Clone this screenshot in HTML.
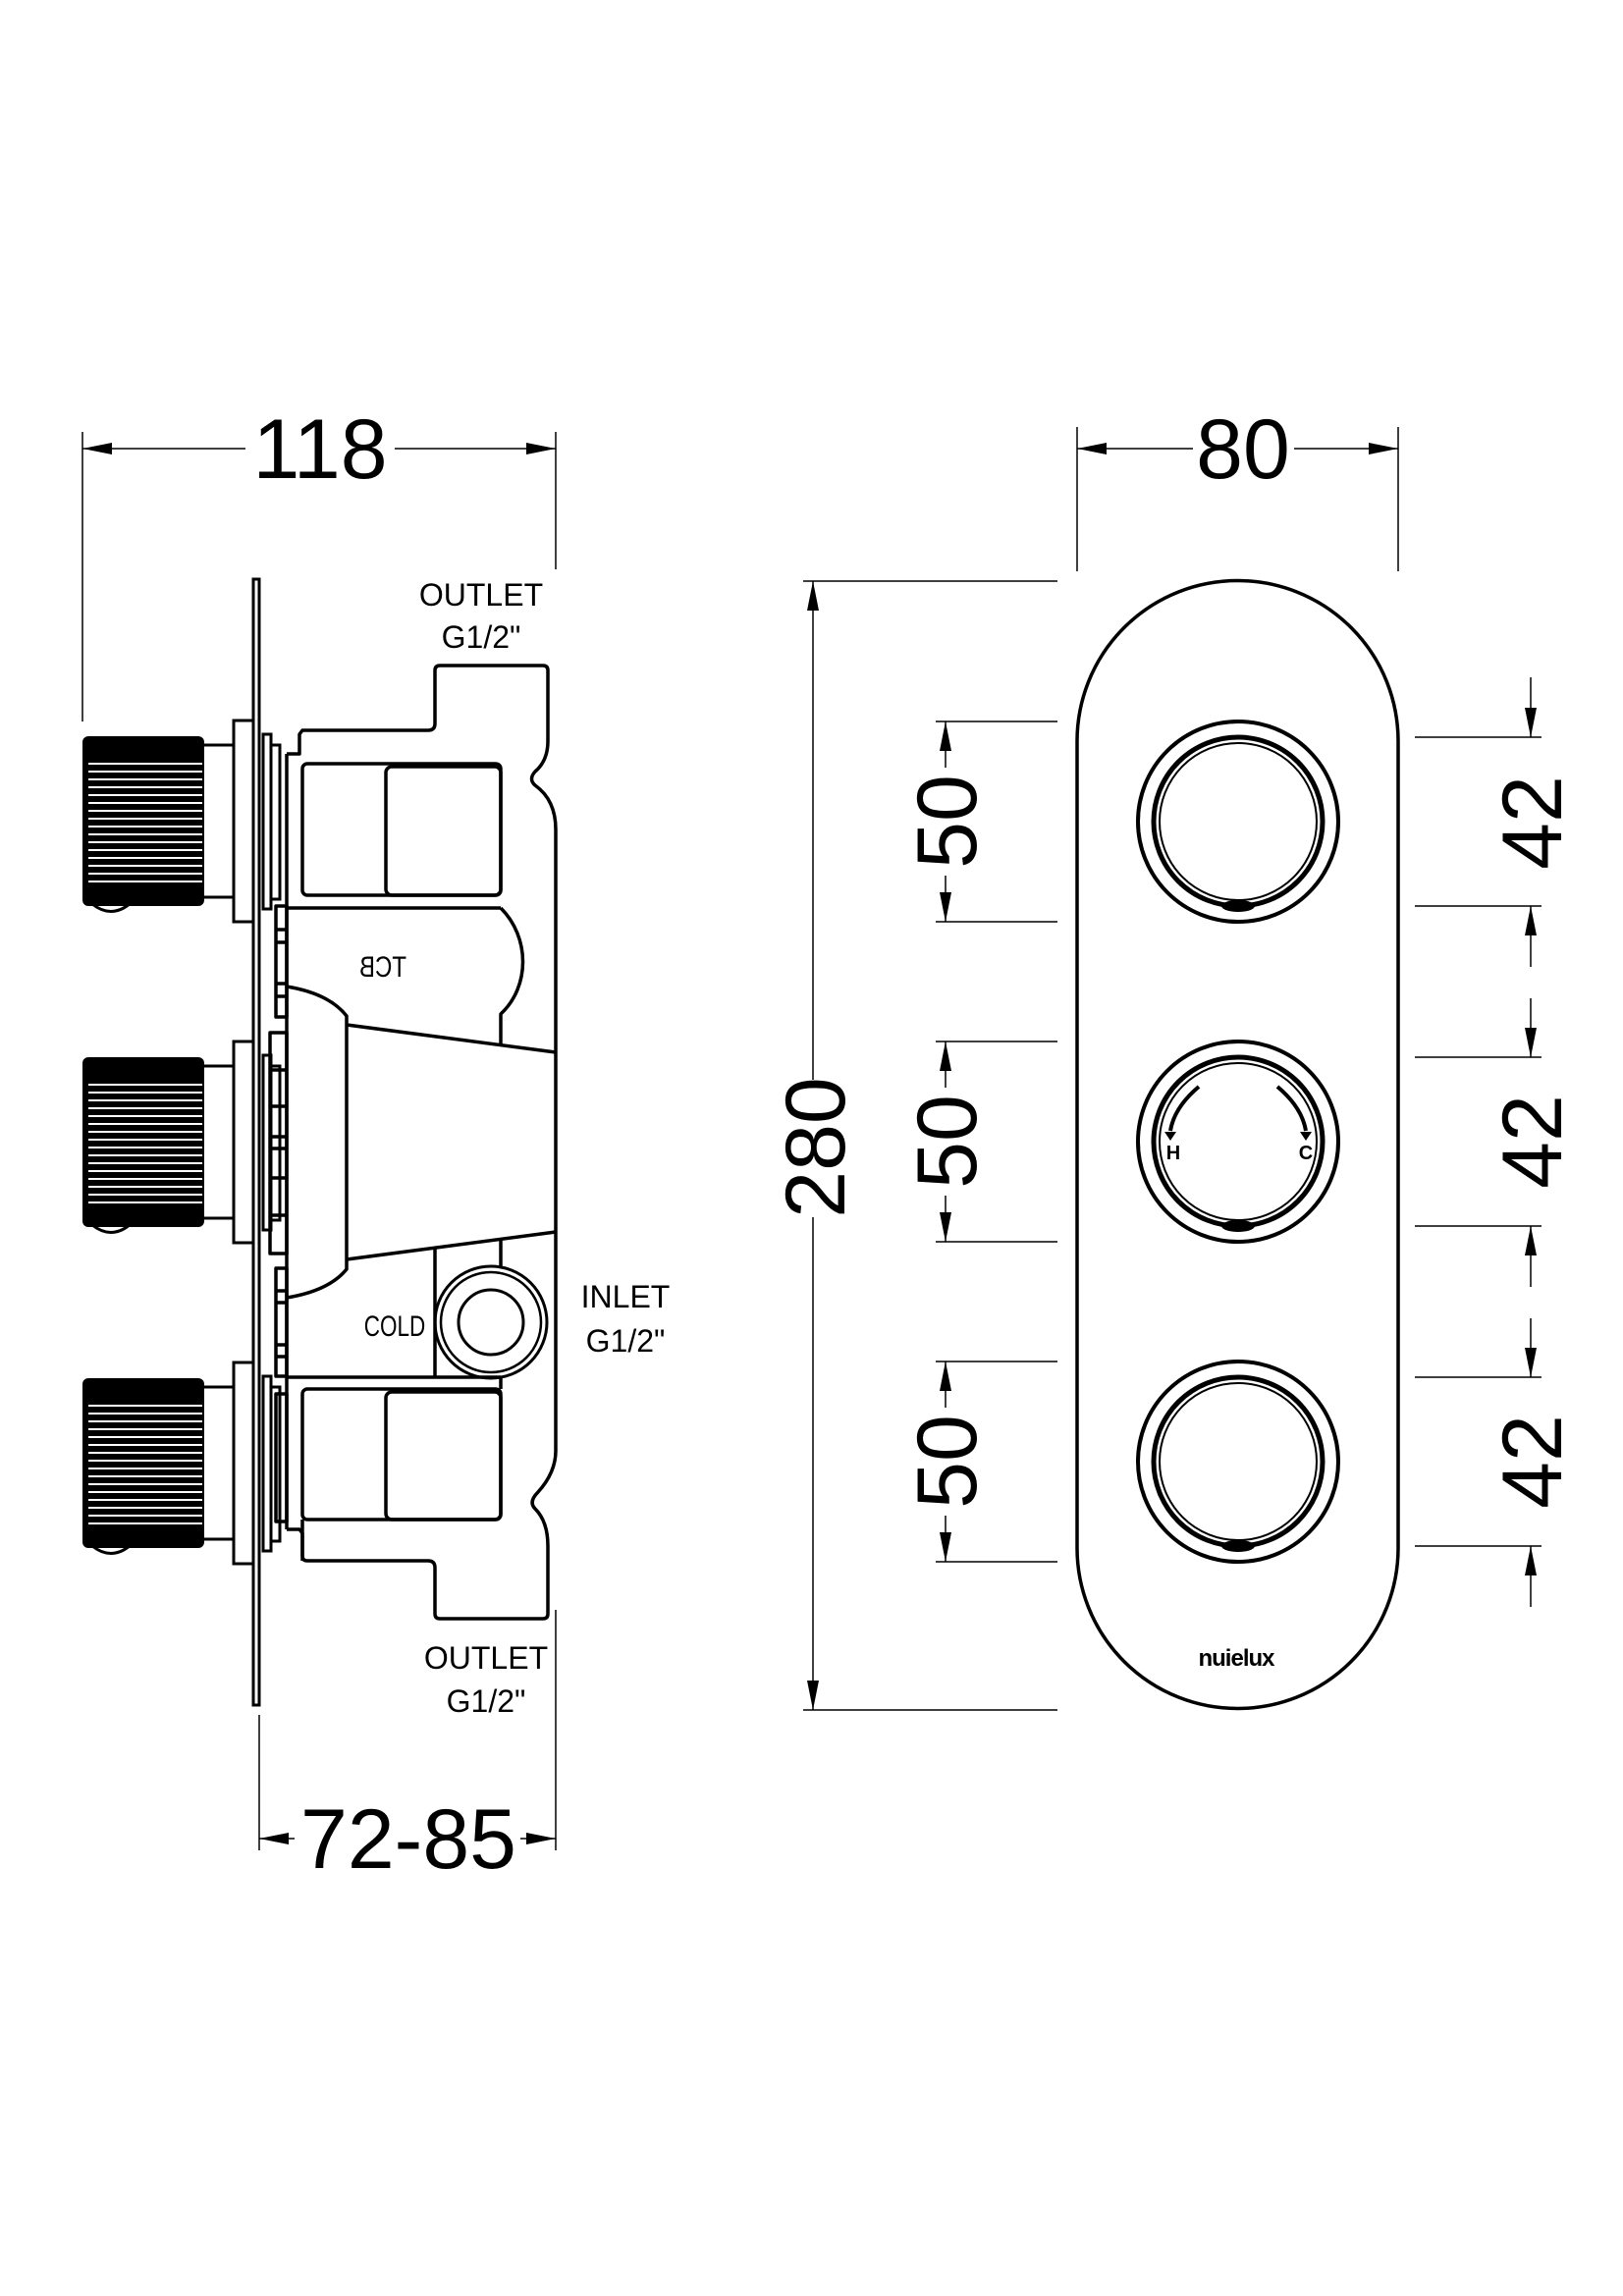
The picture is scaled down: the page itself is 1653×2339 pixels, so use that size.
<!DOCTYPE html>
<html><head><meta charset="utf-8"><style>
html,body{margin:0;padding:0;background:#fff;}
svg{display:block;}
text{font-family:"Liberation Sans",sans-serif;fill:#000;}
</style></head><body>
<svg width="1653" height="2339" viewBox="0 0 1653 2339" xmlns="http://www.w3.org/2000/svg">
<defs>
<g id="knob">
  <rect x="84" y="0" width="124" height="173" rx="6" fill="#000"/>
  <g stroke="#fff" stroke-width="2">
    <line x1="90" y1="28" x2="206" y2="28"/><line x1="90" y1="36" x2="206" y2="36"/>
    <line x1="90" y1="44" x2="206" y2="44"/><line x1="90" y1="52" x2="206" y2="52"/>
    <line x1="90" y1="60" x2="206" y2="60"/><line x1="90" y1="68" x2="206" y2="68"/>
    <line x1="90" y1="76" x2="206" y2="76"/><line x1="90" y1="84" x2="206" y2="84"/>
    <line x1="90" y1="92" x2="206" y2="92"/><line x1="90" y1="100" x2="206" y2="100"/>
    <line x1="90" y1="108" x2="206" y2="108"/><line x1="90" y1="116" x2="206" y2="116"/>
    <line x1="90" y1="124" x2="206" y2="124"/><line x1="90" y1="132" x2="206" y2="132"/>
    <line x1="90" y1="140" x2="206" y2="140"/><line x1="90" y1="148" x2="206" y2="148"/>
  </g>
  <path d="M94,171 Q113,186 132,171" fill="none" stroke="#000" stroke-width="3"/>
  <g fill="none" stroke="#000" stroke-width="3">
    <line x1="208" y1="9" x2="238" y2="9"/><line x1="208" y1="164" x2="238" y2="164"/>
    <rect x="238" y="-16" width="20" height="205"/>
    <rect x="268" y="-2" width="8" height="178"/>
    <rect x="276" y="9" width="9" height="157"/>
  </g>
</g>
<path id="ah" d="M0,0 L-30,-6 L-30,6 Z" fill="#000"/>
</defs>

<!-- 118 dimension -->
<g stroke="#000" stroke-width="1.5" fill="none">
  <line x1="84" y1="440" x2="84" y2="735"/>
  <line x1="566" y1="440" x2="566" y2="580"/>
  <line x1="84" y1="457" x2="250" y2="457"/>
  <line x1="402" y1="457" x2="566" y2="457"/>
  <line x1="264" y1="1747" x2="264" y2="1885"/>
  <line x1="566" y1="1640" x2="566" y2="1885"/>
  <line x1="264" y1="1873" x2="300" y2="1873"/>
  <line x1="530" y1="1873" x2="566" y2="1873"/>
</g>
<use href="#ah" transform="translate(84,457) rotate(180)"/>
<use href="#ah" transform="translate(566,457)"/>
<use href="#ah" transform="translate(264,1873) rotate(180)"/>
<use href="#ah" transform="translate(566,1873)"/>
<text x="326" y="487" font-size="86" text-anchor="middle">118</text>
<text x="416" y="1903" font-size="86" text-anchor="middle">72-85</text>

<!-- wall plate -->
<rect x="258" y="590" width="6" height="1147" fill="none" stroke="#000" stroke-width="3"/>

<!-- knobs -->
<use href="#knob" transform="translate(0,750)"/>
<use href="#knob" transform="translate(0,1077)"/>
<use href="#knob" transform="translate(0,1404)"/>

<!-- body -->
<g fill="none" stroke="#000" stroke-width="3.5" stroke-linejoin="round">
  <path d="M292,768 L305,768 L305,748 L308,744 L436,744 Q443,744 443,737 L443,683 Q443,678 448,678 L553,678 Q558,678 558,683 L558,755 Q558,775 545,786 Q538,794 545,800 Q566,815 566,845 L566,1478 Q566,1500 548,1520 Q538,1530 545,1537 Q558,1550 558,1575 L558,1644 Q558,1649 553,1649 L448,1649 Q443,1649 443,1644 L443,1597 Q443,1590 436,1590 L313,1590 Q308,1590 308,1585 L308,1562 L305,1558 L292,1558"/>
  <line x1="292" y1="768" x2="292" y2="1558"/>
  <rect x="308" y="778" width="202" height="134" rx="5"/>
  <rect x="393" y="781" width="117" height="131" rx="6"/>
  <line x1="292" y1="925" x2="510" y2="925"/>
  <path d="M510,925 C540,955 540,1005 510,1033 L510,1065"/>
  <path d="M292,1005 Q335,1012 353,1035 L353,1293 Q335,1315 292,1322"/>
  <line x1="353" y1="1044" x2="566" y2="1072"/>
  <line x1="353" y1="1283" x2="566" y2="1255"/>
  <line x1="510" y1="1262" x2="510" y2="1292"/>
  <line x1="443" y1="1270" x2="443" y2="1403"/>
  <line x1="510" y1="1403" x2="510" y2="1415"/>
  <line x1="292" y1="1403" x2="510" y2="1403"/>
  <rect x="308" y="1415" width="202" height="133" rx="5"/>
  <rect x="393" y="1418" width="117" height="130" rx="6"/>
  <line x1="308" y1="1548" x2="308" y2="1590"/>
  <!-- left tab columns -->
  <rect x="281" y="923" width="11" height="113"/>
  <line x1="281" y1="947" x2="292" y2="947"/><line x1="281" y1="960" x2="292" y2="960"/>
  <line x1="281" y1="1002" x2="292" y2="1002"/><line x1="281" y1="1015" x2="292" y2="1015"/>
  <rect x="275" y="1052" width="17" height="225"/>
  <line x1="275" y1="1090" x2="292" y2="1090"/><line x1="275" y1="1127" x2="292" y2="1127"/>
  <line x1="275" y1="1158" x2="292" y2="1158"/><line x1="275" y1="1170" x2="292" y2="1170"/>
  <line x1="275" y1="1200" x2="292" y2="1200"/><line x1="275" y1="1238" x2="292" y2="1238"/>
  <rect x="281" y="1292" width="11" height="110"/>
  <line x1="281" y1="1315" x2="292" y2="1315"/><line x1="281" y1="1327" x2="292" y2="1327"/>
  <line x1="281" y1="1370" x2="292" y2="1370"/><line x1="281" y1="1382" x2="292" y2="1382"/>
  <rect x="281" y="1420" width="11" height="130"/>
  <!-- inlet -->
  <circle cx="500" cy="1347" r="57" stroke-width="3"/>
  <circle cx="500" cy="1347" r="51" stroke-width="2.5"/>
  <circle cx="500" cy="1347" r="33" stroke-width="3"/>
</g>
<text x="0" y="0" font-size="30" text-anchor="middle" transform="translate(390,995) scale(-0.8,1)">TCB</text>
<text x="0" y="0" font-size="30" text-anchor="middle" transform="translate(402,1361) scale(0.75,1)">COLD</text>
<g font-size="32" text-anchor="middle">
  <text x="490" y="617">OUTLET</text>
  <text x="490" y="660">G1/2"</text>
  <text x="637" y="1332">INLET</text>
  <text x="637" y="1377">G1/2"</text>
  <text x="495" y="1700">OUTLET</text>
  <text x="495" y="1744">G1/2"</text>
</g>

<!-- front view -->
<path d="M1097,755 A163.5,163.5 0 0 1 1424,755 L1424,1577 A163.5,163.5 0 0 1 1097,1577 Z" fill="none" stroke="#000" stroke-width="3.5"/>
<g fill="none" stroke="#000">
  <circle cx="1261" cy="837" r="102" stroke-width="4"/>
  <circle cx="1261" cy="837" r="86" stroke-width="5"/>
  <circle cx="1261" cy="837" r="80" stroke-width="2"/>
  <circle cx="1261" cy="1163" r="102" stroke-width="4"/>
  <circle cx="1261" cy="1163" r="86" stroke-width="5"/>
  <circle cx="1261" cy="1163" r="80" stroke-width="2"/>
  <circle cx="1261" cy="1489" r="102" stroke-width="4"/>
  <circle cx="1261" cy="1489" r="86" stroke-width="5"/>
  <circle cx="1261" cy="1489" r="80" stroke-width="2"/>
  <path d="M1221,1107 Q1196,1128 1192,1152" stroke-width="4"/>
  <path d="M1301,1107 Q1326,1128 1330,1152" stroke-width="4"/>
</g>
<g fill="#000">
  <ellipse cx="1261" cy="923" rx="17" ry="6"/>
  <ellipse cx="1261" cy="1249" rx="17" ry="6"/>
  <ellipse cx="1261" cy="1575" rx="17" ry="6"/>
  <path d="M1186,1153 L1198,1153 L1192,1162 Z"/>
  <path d="M1324,1153 L1336,1153 L1330,1162 Z"/>
</g>
<text x="1195" y="1181" font-size="20" font-weight="bold" text-anchor="middle">H</text>
<text x="1330" y="1181" font-size="20" font-weight="bold" text-anchor="middle">C</text>
<text x="1259" y="1697" font-size="24" font-weight="bold" text-anchor="middle" letter-spacing="-1">nuielux</text>

<!-- front dims -->
<g stroke="#000" stroke-width="1.5" fill="none">
  <line x1="1097" y1="435" x2="1097" y2="582"/>
  <line x1="1424" y1="435" x2="1424" y2="582"/>
  <line x1="1097" y1="457" x2="1215" y2="457"/>
  <line x1="1318" y1="457" x2="1424" y2="457"/>
  <!-- 280 -->
  <line x1="818" y1="592" x2="1077" y2="592"/>
  <line x1="818" y1="1742" x2="1077" y2="1742"/>
  <line x1="828" y1="592" x2="828" y2="1100"/>
  <line x1="828" y1="1240" x2="828" y2="1742"/>
  <!-- 50s -->
  <line x1="953" y1="735" x2="1077" y2="735"/><line x1="953" y1="939" x2="1077" y2="939"/>
  <line x1="953" y1="1061" x2="1077" y2="1061"/><line x1="953" y1="1265" x2="1077" y2="1265"/>
  <line x1="953" y1="1387" x2="1077" y2="1387"/><line x1="953" y1="1591" x2="1077" y2="1591"/>
  <line x1="963" y1="735" x2="963" y2="782"/><line x1="963" y1="892" x2="963" y2="939"/>
  <line x1="963" y1="1061" x2="963" y2="1108"/><line x1="963" y1="1218" x2="963" y2="1265"/>
  <line x1="963" y1="1387" x2="963" y2="1434"/><line x1="963" y1="1544" x2="963" y2="1591"/>
  <!-- 42s -->
  <line x1="1441" y1="751" x2="1570" y2="751"/><line x1="1441" y1="923" x2="1570" y2="923"/>
  <line x1="1441" y1="1077" x2="1570" y2="1077"/><line x1="1441" y1="1249" x2="1570" y2="1249"/>
  <line x1="1441" y1="1403" x2="1570" y2="1403"/><line x1="1441" y1="1575" x2="1570" y2="1575"/>
  <line x1="1559" y1="690" x2="1559" y2="751"/>
  <line x1="1559" y1="923" x2="1559" y2="985"/><line x1="1559" y1="1017" x2="1559" y2="1077"/>
  <line x1="1559" y1="1249" x2="1559" y2="1311"/><line x1="1559" y1="1343" x2="1559" y2="1403"/>
  <line x1="1559" y1="1575" x2="1559" y2="1637"/>
</g>
<use href="#ah" transform="translate(1097,457) rotate(180)"/>
<use href="#ah" transform="translate(1424,457)"/>
<use href="#ah" transform="translate(828,592) rotate(-90)"/>
<use href="#ah" transform="translate(828,1742) rotate(90)"/>
<use href="#ah" transform="translate(963,735) rotate(-90)"/>
<use href="#ah" transform="translate(963,939) rotate(90)"/>
<use href="#ah" transform="translate(963,1061) rotate(-90)"/>
<use href="#ah" transform="translate(963,1265) rotate(90)"/>
<use href="#ah" transform="translate(963,1387) rotate(-90)"/>
<use href="#ah" transform="translate(963,1591) rotate(90)"/>
<use href="#ah" transform="translate(1559,751) rotate(90)"/>
<use href="#ah" transform="translate(1559,923) rotate(-90)"/>
<use href="#ah" transform="translate(1559,1077) rotate(90)"/>
<use href="#ah" transform="translate(1559,1249) rotate(-90)"/>
<use href="#ah" transform="translate(1559,1403) rotate(90)"/>
<use href="#ah" transform="translate(1559,1575) rotate(-90)"/>
<text x="1266" y="487" font-size="86" text-anchor="middle">80</text>
<g font-size="86" text-anchor="middle">
  <text transform="translate(860,1169) rotate(-90)">280</text>
  <text transform="translate(994,837) rotate(-90)">50</text>
  <text transform="translate(994,1163) rotate(-90)">50</text>
  <text transform="translate(994,1489) rotate(-90)">50</text>
  <text transform="translate(1590,838) rotate(-90)">42</text>
  <text transform="translate(1590,1163) rotate(-90)">42</text>
  <text transform="translate(1590,1489) rotate(-90)">42</text>
</g>
</svg>
</body></html>
